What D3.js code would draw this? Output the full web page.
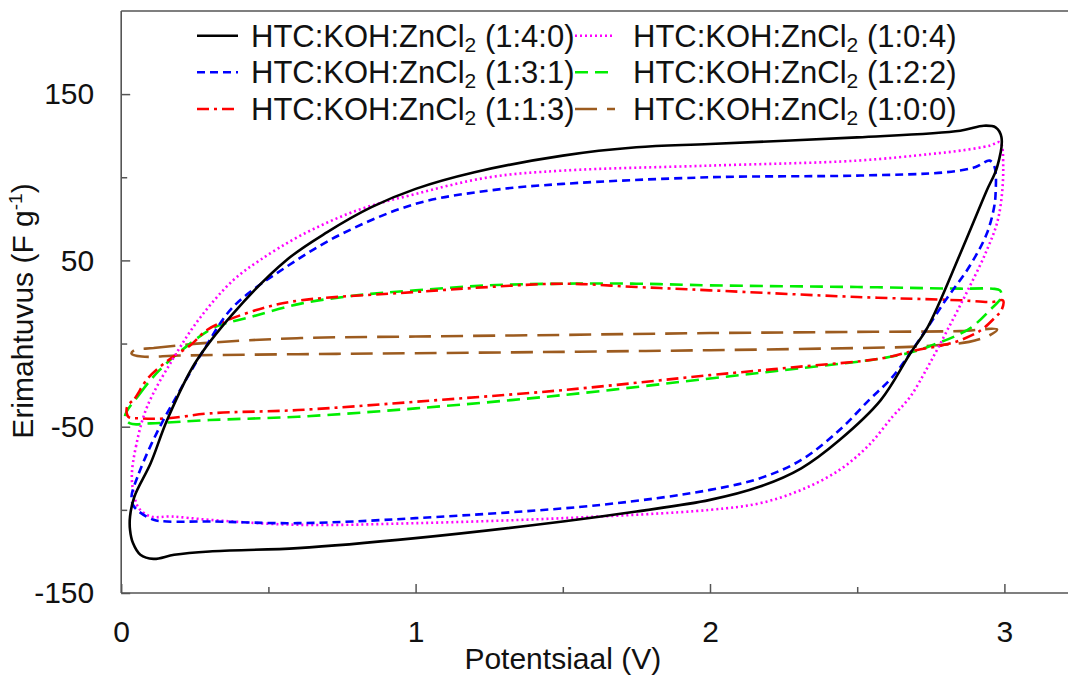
<!DOCTYPE html>
<html>
<head>
<meta charset="utf-8">
<script src="https://cdn.jsdelivr.net/npm/d3@7"></script>
<style>
  html, body { margin: 0; padding: 0; background: #fff; }
  svg { display: block; font-family: "Liberation Sans", Arial, sans-serif; }
</style>
</head>
<body>
<svg id="chart" width="1068" height="678"></svg>
<script>
// Cyclic voltammetry loops: [potential (V), specific capacitance (F g-1)],
// traced round each loop: up the charging branch, back along the discharge branch.
const loop140 = [
  [0.030,-104],[0.045,-92],[0.10,-72],[0.156,-46],[0.25,-12],[0.38,18],[0.56,50],[0.70,67],
  [0.85,82],[1.00,93],[1.20,103],[1.50,113],[1.75,118],[2.00,120],[2.50,124],[2.85,128],
  [2.93,131],[2.97,130],[2.99,124],[2.975,106],[2.94,92],[2.85,54],[2.74,10],[2.68,-6],
  [2.58,-34],[2.44,-58],[2.31,-75],[2.17,-86],[2.00,-94],[1.75,-101],[1.50,-107],[1.00,-117],
  [0.60,-123],[0.30,-125],[0.18,-127],[0.11,-129.5],[0.065,-127],[0.04,-120],[0.03,-112]
];
const loop131 = [
  [0.035,-92],[0.06,-78],[0.12,-54],[0.20,-28],[0.28,-4],[0.38,22],[0.56,46],[0.75,66],
  [1.00,84],[1.25,92],[1.50,96],[2.00,100],[2.50,101],[2.80,103],[2.90,106],[2.95,110],
  [2.967,106],[2.97,90],[2.965,82],[2.94,66],[2.88,46],[2.80,26],[2.71,2],[2.62,-20],
  [2.54,-34],[2.44,-52],[2.31,-70],[2.17,-81],[2.00,-88],[1.63,-97],[1.00,-105],[0.60,-108],
  [0.30,-107],[0.155,-107],[0.11,-106],[0.06,-101],[0.04,-97]
];
const loop113 = [
  [0.02,-38],[0.046,-33],[0.09,-21],[0.16,-10],[0.235,-1],[0.29,8],[0.36,14],[0.495,22],
  [0.61,26],[1.00,31],[1.25,34],[1.50,36],[1.75,34],[2.00,32],[2.50,28],[2.85,26],[2.96,25],
  [2.995,26],[2.99,20],[2.97,16],[2.92,8],[2.85,2],[2.79,-1],[2.70,-4],[2.58,-9],[2.30,-14],
  [2.00,-19],[1.50,-28],[1.00,-35],[0.60,-40],[0.30,-42],[0.155,-45],[0.064,-45],[0.024,-44]
];
const loop104 = [
  [0.036,-80],[0.05,-62],[0.088,-38],[0.18,-8],[0.27,16],[0.38,38],[0.47,50],[0.61,65],
  [0.80,80],[1.00,90],[1.25,100],[1.50,104],[2.00,107],[2.50,110],[2.75,114],[2.85,116],
  [2.95,119],[2.985,121],[2.996,106],[2.98,76],[2.94,56],[2.87,30],[2.80,6],[2.74,-14],
  [2.68,-32],[2.62,-44],[2.54,-61],[2.44,-76],[2.31,-88],[2.17,-96],[2.00,-100],[1.50,-105],
  [1.00,-108],[0.60,-109],[0.30,-106],[0.17,-104],[0.10,-104],[0.06,-99],[0.045,-92]
];
const loop122 = [
  [0.013,-44],[0.064,-30],[0.13,-16],[0.22,-2],[0.32,10],[0.44,16],[0.61,24],[0.80,29],
  [1.00,32],[1.25,35],[1.50,36],[1.75,36],[2.00,35],[2.50,34],[2.85,33],[2.96,33],[2.985,32],
  [2.99,28],[2.95,20],[2.89,10],[2.84,5],[2.77,0],[2.69,-5],[2.58,-9],[2.30,-15],[2.00,-21],
  [1.50,-31],[1.00,-39],[0.60,-44],[0.30,-46],[0.10,-48],[0.03,-48]
];
const loop100 = [
  [0.045,-4],[0.11,-2.7],[0.30,0.5],[0.61,3.3],[1.00,4.2],[1.50,5.2],[2.00,6.3],[2.50,7],
  [2.85,7.5],[2.975,8.5],[2.95,5],[2.88,1],[2.77,-1],[2.68,-2],[2.50,-2.7],[2.00,-4],
  [1.50,-5],[1.00,-5.8],[0.60,-6.4],[0.20,-7.2],[0.07,-7.8],[0.035,-6]
];

// Series order as listed in the legend (column by column)
const ratios = ["(1:4:0)", "(1:3:1)", "(1:1:3)", "(1:0:4)", "(1:2:2)", "(1:0:0)"];
const loops = [loop140, loop131, loop113, loop104, loop122, loop100];
const colors = ["#000000", "#0000ff", "#ff0000", "#ff00ff", "#00ee00", "#9c5b1f"];
const dashes = [null, "8,5", "12,5,3,5", "2,3", "13,7", "22,10"];
const drawOrder = [5, 4, 2, 3, 1, 0];

const xMajor = [0, 1, 2, 3];
const xMinor = [0.5, 1.5, 2.5];
const yMajor = [-150, -50, 50, 150];
const yMinor = [-100, 0, 100];

const svg = d3.select("#chart");
const W = 1068;
const x = d3.scaleLinear().domain([0, 3.2]).range([121.2, 121.2 + 3.2 * 294.4]);
const y = d3.scaleLinear().domain([-150, 200]).range([593, 593 - 350 * 1.663]);

const axisColor = "#555";
const textColor = "#111";
const plainNumber = d => String(d);   // hyphen-minus, as in the printed axis

// Curves
const line = d3.line()
  .x(d => x(d[0]))
  .y(d => y(d[1]))
  .curve(d3.curveCatmullRomClosed.alpha(0.5));

const gLines = svg.append("g");
drawOrder.forEach(i => {
  gLines.append("path")
    .attr("d", line(loops[i]))
    .attr("fill", "none")
    .attr("stroke", colors[i])
    .attr("stroke-width", 2.6)
    .attr("stroke-linejoin", "round")
    .attr("stroke-dasharray", dashes[i]);
});

// Axes
const xAxis = svg.append("g")
  .attr("transform", `translate(0,${y(-150)})`)
  .call(d3.axisBottom(x).tickValues(xMajor).tickSize(-9).tickPadding(28).tickFormat(plainNumber));
const xAxisMinor = svg.append("g")
  .attr("transform", `translate(0,${y(-150)})`)
  .call(d3.axisBottom(x).tickValues(xMinor).tickSize(-6).tickFormat(""));
const yAxis = svg.append("g")
  .attr("transform", `translate(${x(0)},0)`)
  .call(d3.axisLeft(y).tickValues(yMajor).tickSize(-9).tickPadding(27).tickFormat(plainNumber));
const yAxisMinor = svg.append("g")
  .attr("transform", `translate(${x(0)},0)`)
  .call(d3.axisLeft(y).tickValues(yMinor).tickSize(-6).tickFormat(""));

[xAxis, xAxisMinor, yAxis, yAxisMinor].forEach(g => {
  g.select(".domain").remove();
  g.selectAll(".tick line").attr("stroke", axisColor).attr("stroke-width", 1.5);
  g.selectAll(".tick text")
    .attr("fill", textColor)
    .style("font-size", "30px")
    .style("font-family", '"Liberation Sans", Arial, sans-serif');
});

// Frame lines: left axis, bottom axis and top rule
svg.append("line").attr("x1", x(0)).attr("x2", x(0)).attr("y1", y(200)).attr("y2", y(-150))
  .attr("stroke", axisColor).attr("stroke-width", 1.6);
svg.append("line").attr("x1", x(0)).attr("x2", W).attr("y1", y(-150)).attr("y2", y(-150))
  .attr("stroke", axisColor).attr("stroke-width", 1.6);
svg.append("line").attr("x1", x(0)).attr("x2", W).attr("y1", y(200)).attr("y2", y(200))
  .attr("stroke", axisColor).attr("stroke-width", 1.6);

// Axis titles
svg.append("text")
  .attr("x", x(1.5)).attr("y", 669)
  .attr("text-anchor", "middle")
  .attr("fill", textColor).style("font-size", "30px")
  .text("Potentsiaal (V)");

const yTitle = svg.append("text")
  .attr("transform", `translate(33,${y(25) + 9}) rotate(-90)`)
  .attr("text-anchor", "middle")
  .attr("fill", textColor).style("font-size", "30px");
yTitle.append("tspan").text("Erimahtuvus (F g");
yTitle.append("tspan").attr("dy", -11).style("font-size", "19px").text("-1");
yTitle.append("tspan").attr("dy", 11).text(")");

// Legend
const legendCols = [
  { lineX1: 197, lineX2: 238, textX: 251 },
  { lineX1: 575, lineX2: 615, textX: 633 }
];
const legendBase = [46.7, 83.3, 120];
ratios.forEach((r, i) => {
  const col = legendCols[Math.floor(i / 3)];
  const base = legendBase[i % 3];
  svg.append("line")
    .attr("x1", col.lineX1).attr("x2", col.lineX2)
    .attr("y1", base - 11).attr("y2", base - 11)
    .attr("stroke", colors[i]).attr("stroke-width", 2.6)
    .attr("stroke-dasharray", dashes[i]);
  const t = svg.append("text")
    .attr("x", col.textX).attr("y", base)
    .attr("fill", textColor).style("font-size", "31px");
  t.append("tspan").text("HTC:KOH:ZnCl");
  t.append("tspan").attr("dy", 5).style("font-size", "21px").text("2");
  t.append("tspan").attr("dy", -5).text(" " + r);
});
</script>
</body>
</html>
